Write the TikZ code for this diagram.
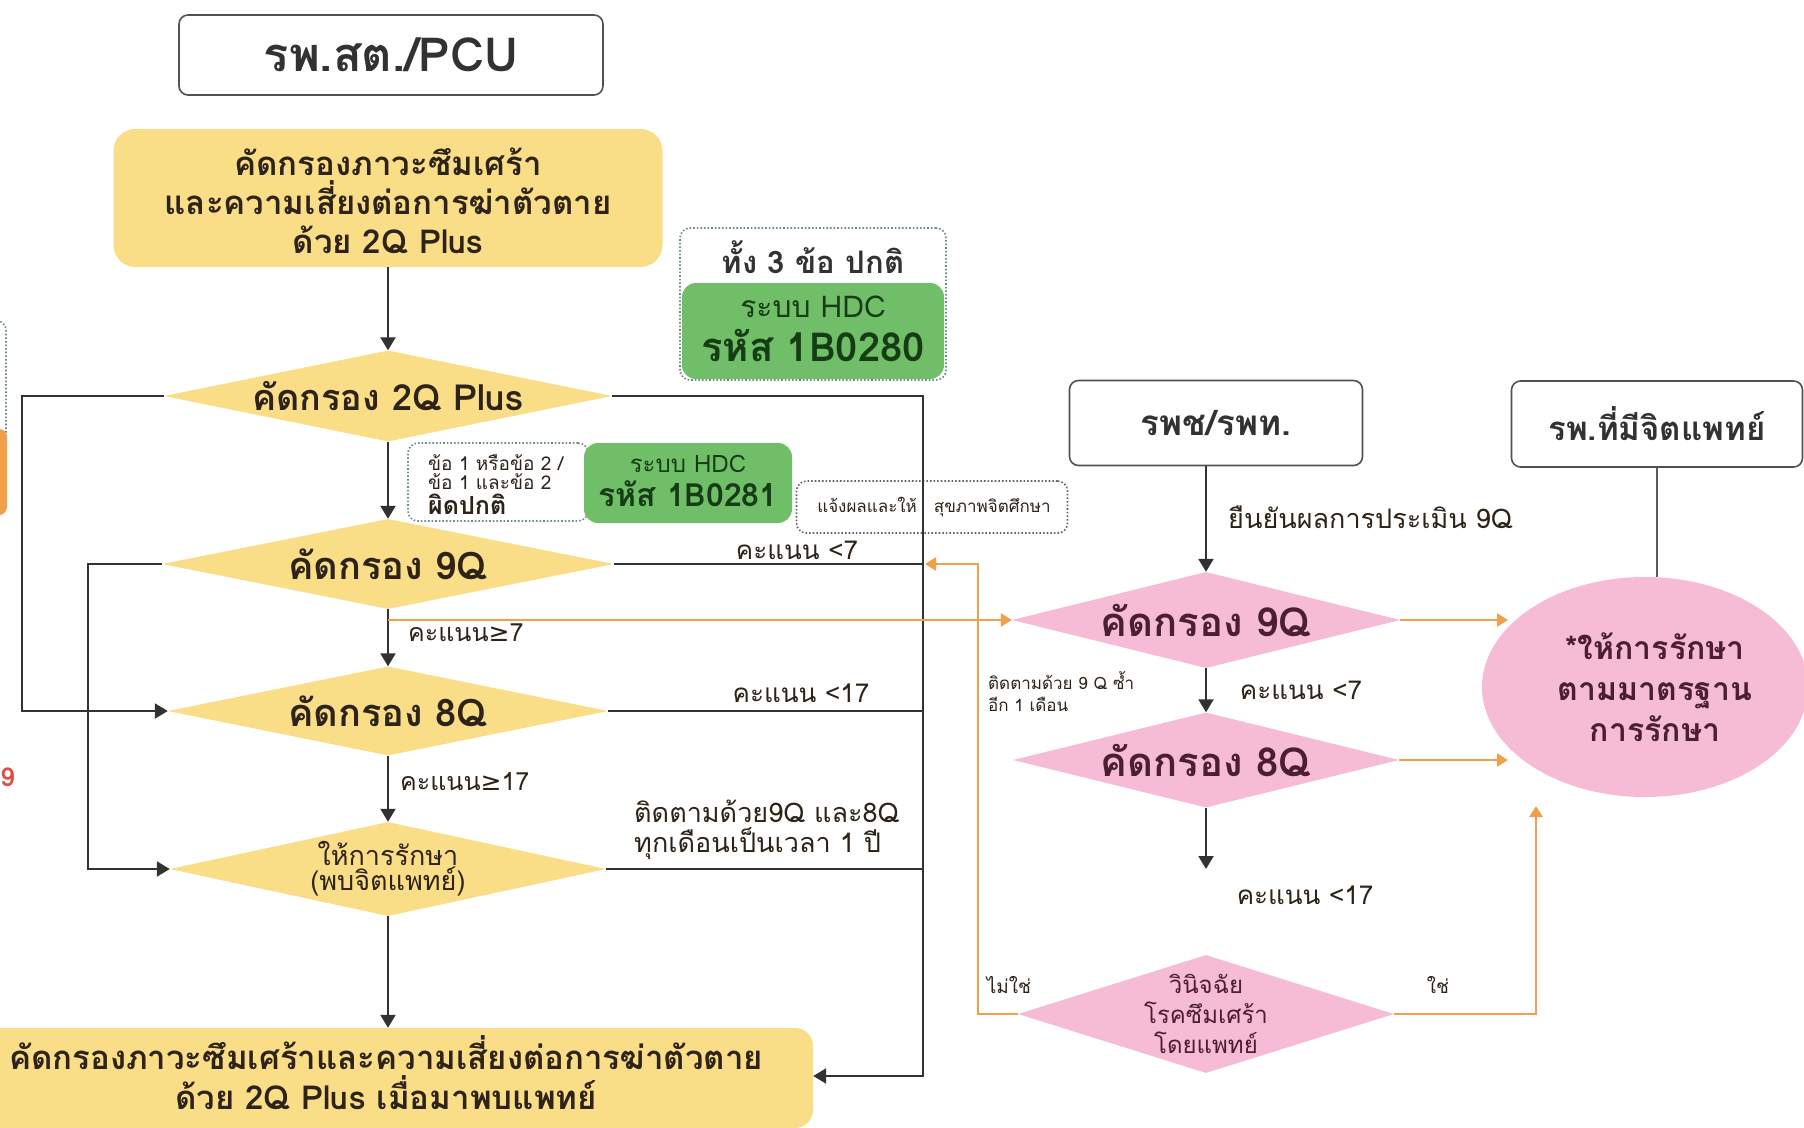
\documentclass[tikz,border=0pt]{standalone}
\usepackage{fontspec}
\setmainfont[Script=Thai]{Loma}
\newfontfamily\dv{DejaVu Sans}
\usetikzlibrary{shapes.geometric,arrows.meta,calc}
\definecolor{ylw}{RGB}{250,221,135}
\definecolor{pnk}{RGB}{246,188,214}
\definecolor{grn}{RGB}{112,190,103}
\definecolor{dgrn}{RGB}{22,60,22}
\definecolor{org}{RGB}{239,160,72}
\definecolor{ln}{RGB}{50,50,50}
\definecolor{txt}{RGB}{45,35,25}
\definecolor{ptx}{RGB}{75,30,50}
\definecolor{dotc}{RGB}{110,140,130}
\definecolor{cutred}{RGB}{220,80,70}
\newcommand\fsz[2]{\fontsize{#1}{#2}\selectfont}
\begin{document}
\begin{tikzpicture}[x=1pt,y=-1pt,
  arr/.style={draw=ln, line width=2.2pt, -{Triangle[length=13pt,width=15pt]}},
  lin/.style={draw=ln, line width=2.2pt},
  oarr/.style={draw=org, line width=2.6pt, -{Triangle[length=11pt,width=13pt]}},
  hbox/.style={draw=ln!85, line width=1.6pt, rounded corners=9pt, fill=white, inner sep=0pt, text=ln},
  ybox/.style={fill=ylw, rounded corners=22pt, inner sep=0pt},
  ydia/.style={diamond, fill=ylw, inner sep=0pt},
  pdia/.style={diamond, fill=pnk, inner sep=0pt},
  ytxt/.style={text=txt, align=center, inner sep=0pt},
  ptxt/.style={text=ptx, align=center, inner sep=0pt},
  lbl/.style={text=txt, inner sep=0pt},
  dotbox/.style={draw=dotc, dotted, line width=1.6pt, rounded corners=10pt, inner sep=0pt},
  gbox/.style={fill=grn, rounded corners=14pt, inner sep=0pt},
  gtxt/.style={text=dgrn, align=center, inner sep=0pt},
]
\path[use as bounding box] (0,0) rectangle (1804,1127);
\clip (0,0) rectangle (1804,1127);
\fill[white] (0,0) rectangle (1804,1127);

% clipped remnants at left edge
\node[dotbox, minimum width=40pt, minimum height=195pt] (cut1) at (-14,418) {};
\node[fill=org, rounded corners=8pt, minimum width=30pt, minimum height=86pt, inner sep=0pt] (cut2) at (-8,472) {};
\node[text=cutred, font=\bfseries\fsz{26}{28}, anchor=east, inner sep=0pt] (cut3) at (15,777) {9};

% left column
\node[hbox, minimum width=424pt, minimum height=80pt, font=\bfseries\fsz{47}{50}] (title) at (391,55) {รพ.สต./PCU};
\node[ybox, minimum width=549pt, minimum height=138pt] (start) at (388,198) {};
\node[ytxt, font=\bfseries\fsz{33}{39}] (startT) at (388,201)
  {คัดกรองภาวะซึมเศร้า\\และความเสี่ยงต่อการฆ่าตัวตาย\\ด้วย 2Q Plus};

\node[ydia, minimum width=448pt, minimum height=91pt] (d2q) at (388,396) {};
\node[ytxt, font=\bfseries\fsz{36}{40}] (d2qT) at (d2q) {คัดกรอง 2Q Plus};
\node[ydia, minimum width=452pt, minimum height=90pt] (d9q) at (388,564) {};
\node[ytxt, font=\bfseries\fsz{38}{40}] (d9qT) at (d9q) {คัดกรอง 9Q};
\node[ydia, minimum width=440pt, minimum height=89pt] (d8q) at (388,711) {};
\node[ytxt, font=\bfseries\fsz{38}{40}] (d8qT) at (d8q) {คัดกรอง 8Q};
\node[ydia, minimum width=436pt, minimum height=94pt] (dtreat) at (388,869) {};
\node[ytxt, font=\fsz{27}{22}] (dtreatT) at (dtreat) {ให้การรักษา\\(พบจิตแพทย์)};

\node[ybox, rounded corners=18pt, minimum width=850pt, minimum height=100pt] (final) at (388,1078) {};
\node[ytxt, font=\bfseries\fsz{33}{40}] (finalT) at (386,1073)
  {คัดกรองภาวะซึมเศร้าและความเสี่ยงต่อการฆ่าตัวตาย\\ด้วย 2Q Plus เมื่อมาพบแพทย์};

% notes
\node[dotbox, minimum width=266pt, minimum height=152pt] (note0) at (813,304) {};
\node[gbox, minimum width=262pt, minimum height=96pt] (hdc80) at (813,331) {};
\node[lbl, text=ln, font=\bfseries\fsz{31}{34}] (note0T) at (813,257) {ทั้ง 3 ข้อ ปกติ};
\node[gtxt, font=\fsz{30}{32}] (hdc80a) at (813,307) {ระบบ HDC};
\node[gtxt, font=\bfseries\fsz{40}{42}] (hdc80b) at (813,345) {รหัส 1B0280};

\node[dotbox, minimum width=180pt, minimum height=78pt] (note1) at (498,482) {};
\node[lbl, anchor=west, font=\fsz{19}{21}] (note1a) at (428,463) {ข้อ 1 หรือข้อ 2 /};
\node[lbl, anchor=west, font=\fsz{19}{21}] (note1b) at (428,482) {ข้อ 1 และข้อ 2};
\node[lbl, anchor=west, font=\bfseries\fsz{25}{29}] (note1c) at (428,504) {ผิดปกติ};
\node[gbox, minimum width=208pt, minimum height=80pt] (hdc81) at (688,483) {};
\node[gtxt, font=\fsz{24}{26}] (hdc81a) at (688,464) {ระบบ HDC};
\node[gtxt, font=\bfseries\fsz{32}{34}] (hdc81b) at (688,494) {รหัส 1B0281};

\node[dotbox, draw=ln!75, minimum width=271pt, minimum height=52pt] (inform) at (932,507) {};
\node[lbl, font=\fsz{17}{19}] (informT) at (934,507) {แจ้งผลและให้\quad สุขภาพจิตศึกษา};

% left column connectors
\draw[arr] (start.south) -- (d2q.north);
\draw[arr] (d2q.south) -- (d9q.north);
\draw[arr] (d9q.south) -- (d8q.north);
\draw[arr] (d8q.south) -- (dtreat.north);
\draw[arr] (dtreat.south) -- (final.north);
\coordinate (lx1) at (22,0);
\coordinate (lx2) at (88,0);
\draw[arr] (d2q.west) -- (d2q.west -| lx1) |- (d8q.west);
\draw[arr] (d9q.west) -- (d9q.west -| lx2) |- (dtreat.west);
\coordinate (bus) at (923,1076);
\draw[arr] (d2q.east) -| (bus) -- (bus -| final.east);
\draw[lin] (d9q.east) -- (d9q.east -| bus);
\draw[lin] (d8q.east) -- (d8q.east -| bus);
\draw[lin] (dtreat.east) -- (dtreat.east -| bus);

\node[lbl, font=\fsz{26}{28}] (l7) at (797,550) {คะแนน <7};
\node[lbl, font=\fsz{26}{28}] (l17) at (801,693) {คะแนน <17};
\node[lbl, anchor=west, align=left, font=\fsz{27}{30}] (follow) at (634,830) {ติดตามด้วย9Q และ8Q\\ทุกเดือนเป็นเวลา 1 ปี};
\node[lbl, anchor=west, font=\fsz{25}{28}] (ge7) at (408,633) {คะแนน{\dv ≥}7};
\node[lbl, anchor=west, font=\fsz{25}{28}] (ge17) at (400,782) {คะแนน{\dv ≥}17};

% right part
\node[hbox, minimum width=293pt, minimum height=85pt, font=\bfseries\fsz{35}{40}] (hosp2) at (1216,423) {รพช/รพท.};
\node[hbox, minimum width=291pt, minimum height=86pt, font=\bfseries\fsz{33}{40}] (hosp3) at (1657,424) {รพ.ที่มีจิตแพทย์};

\node[pdia, minimum width=388pt, minimum height=96pt] (p9q) at (1206,620) {};
\node[ptxt, font=\bfseries\fsz{40}{42}] (p9qT) at (p9q) {คัดกรอง 9Q};
\node[pdia, minimum width=386pt, minimum height=95pt] (p8q) at (1206,760) {};
\node[ptxt, font=\bfseries\fsz{40}{42}] (p8qT) at (p8q) {คัดกรอง 8Q};
\node[pdia, minimum width=376pt, minimum height=118pt] (pdiag) at (1206,1014) {};
\node[ptxt, font=\fsz{24}{30}] (pdiagT) at (pdiag) {วินิจฉัย\\โรคซึมเศร้า\\โดยแพทย์};
\node[ellipse, fill=pnk, minimum width=326pt, minimum height=220pt, inner sep=0pt] (ell) at (1645,687) {};
\node[ptxt, font=\bfseries\fsz{32}{41}] (ellT) at (1655,687) {*ให้การรักษา\\ตามมาตรฐาน\\การรักษา};

\draw[arr] (p9q.north |- hosp2.south) -- (p9q.north);
\draw[arr] (p9q.south) -- (p8q.north);
\coordinate (p8end) at (1206,869);
\draw[arr] (p8q.south) -- (p8end);
\draw[lin, draw=ln!80] (hosp3.south) -- (hosp3.south |- ell.north);

\node[lbl, anchor=west, font=\fsz{27}{29}] (confirm) at (1228,517) {ยืนยันผลการประเมิน 9Q};
\node[lbl, font=\fsz{26}{28}] (pl7) at (1301,690) {คะแนน <7};
\node[lbl, anchor=west, align=left, font=\fsz{17}{22}] (repeat) at (988,692) {ติดตามด้วย 9 Q ซ้ำ\\อีก 1 เดือน};
\node[lbl, font=\fsz{26}{28}] (pl17) at (1305,895) {คะแนน <17};
\node[lbl, font=\fsz{19}{21}] (no) at (1009,985) {ไม่ใช่};
\node[lbl, font=\fsz{19}{21}] (yes) at (1438,985) {ใช่};

% orange connectors
\draw[oarr] (p9q.west -| d9q.south) -- (p9q.west);
\coordinate (nox) at (978,564);
\draw[oarr, shorten >=2pt] (pdiag.west) -| (nox) -- (nox -| bus);
\coordinate (yesend) at (1536,806);
\draw[oarr] (pdiag.east) -| (yesend);
\coordinate (e9) at (1508,620);
\coordinate (e8) at (1508,760);
\draw[oarr] (p9q.east) -- (e9);
\draw[oarr] (p8q.east) -- (e8);
\end{tikzpicture}
\end{document}
